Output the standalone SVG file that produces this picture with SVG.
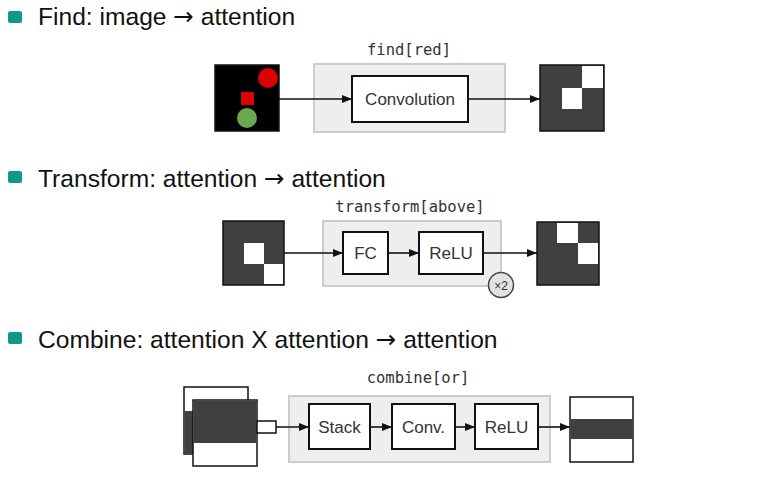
<svg xmlns="http://www.w3.org/2000/svg" width="766" height="485" viewBox="0 0 766 485">
<style>
.hdr{font-family:"Liberation Sans",Arial,sans-serif;font-size:24.6px;fill:#111}
.arr{font-family:"DejaVu Sans",sans-serif;font-size:24.6px}
.bul{fill:#0f9a86}
.mono{font-family:"DejaVu Sans Mono","Liberation Mono",monospace;font-size:15.5px;fill:#333;text-anchor:middle}
.grp{fill:#eeeeee;stroke:#cccccc;stroke-width:2}
.box{fill:#ffffff;stroke:#111;stroke-width:2}
.lbl{font-family:"Liberation Sans",Arial,sans-serif;font-size:17px;fill:#333;text-anchor:middle}
.att{fill:#404040;stroke:#111;stroke-width:1.5}
.wht{fill:#ffffff}
.wbox{fill:#ffffff;stroke:#111;stroke-width:1.5}
.edge{stroke:#111;stroke-width:1.6;fill:none;marker-end:url(#ah)}
</style>
<defs>
<marker id="ah" markerWidth="10" markerHeight="8" refX="10" refY="4" orient="auto" markerUnits="userSpaceOnUse">
<path d="M0,0 L10,4 L0,8 Z" fill="#111"/>
</marker>
</defs>
<rect width="766" height="485" fill="#ffffff"/>

<g id="headers">
<rect class="bul" x="8" y="11" width="14" height="12" rx="2"/>
<text class="hdr" x="38" y="25">Find: image <tspan class="arr">→</tspan> attention</text>
<rect class="bul" x="8" y="171" width="14" height="12" rx="2"/>
<text class="hdr" x="38" y="187">Transform: attention <tspan class="arr">→</tspan> attention</text>
<rect class="bul" x="8" y="332" width="14" height="12" rx="2"/>
<text class="hdr" x="38" y="348">Combine: attention X attention <tspan class="arr">→</tspan> attention</text>
</g>

<g id="find-input">
<rect x="215" y="65" width="64" height="66" fill="#000" stroke="#111" stroke-width="1.5"/>
<circle cx="268" cy="78" r="10" fill="#dd0000"/>
<rect x="241" y="92" width="13" height="13" fill="#dd0000"/>
<circle cx="247" cy="118" r="10" fill="#6aa84f"/>
</g>
<g id="find-module">
<rect class="grp" x="314" y="64" width="191" height="68"/>
<text class="mono" x="409" y="55">find[red]</text>
</g>
<g id="find-conv">
<rect class="box" x="352" y="76" width="116" height="46"/>
<text class="lbl" x="410" y="105">Convolution</text>
</g>
<g id="find-output">
<rect class="att" x="540" y="65" width="64" height="66"/>
<rect class="wht" x="582" y="66" width="21" height="22"/>
<rect class="wht" x="562" y="88" width="20" height="21"/>
</g>

<g id="transform-input">
<rect class="att" x="223" y="221" width="61" height="64"/>
<rect class="wht" x="244" y="243" width="20" height="21"/>
<rect class="wht" x="264" y="264" width="19" height="20"/>
</g>
<g id="transform-module">
<rect class="grp" x="323" y="221" width="178" height="65"/>
<text class="mono" x="410" y="212">transform[above]</text>
</g>
<g id="transform-fc">
<rect class="box" x="343" y="232" width="45" height="42"/>
<text class="lbl" x="365.5" y="259">FC</text>
</g>
<g id="transform-relu">
<rect class="box" x="419" y="232" width="64" height="42"/>
<text class="lbl" x="451" y="259">ReLU</text>
</g>
<g id="transform-output">
<rect class="att" x="537" y="222" width="62" height="63"/>
<rect class="wht" x="557" y="223" width="21" height="20"/>
<rect class="wht" x="578" y="243" width="20" height="21"/>
</g>

<g id="combine-input">
<rect x="184" y="387" width="64" height="67" fill="#ffffff" stroke="#111" stroke-width="1.5"/>
<rect x="184.75" y="411" width="62.5" height="42.25" fill="#404040"/>
<rect x="193" y="400" width="64" height="66" fill="#ffffff" stroke="#111" stroke-width="1.5"/>
<rect x="193.75" y="400.75" width="62.5" height="42.25" fill="#404040"/>
<rect class="wbox" x="257" y="421" width="19" height="12"/>
</g>
<g id="combine-module">
<rect class="grp" x="289" y="396" width="261" height="66"/>
<text class="mono" x="418" y="383">combine[or]</text>
</g>
<g id="combine-stack">
<rect class="box" x="309" y="404" width="61" height="45"/>
<text class="lbl" x="339.5" y="433">Stack</text>
</g>
<g id="combine-conv">
<rect class="box" x="392" y="404" width="63" height="45"/>
<text class="lbl" x="423.5" y="433">Conv.</text>
</g>
<g id="combine-relu">
<rect class="box" x="475" y="404" width="63" height="45"/>
<text class="lbl" x="506.5" y="433">ReLU</text>
</g>
<g id="combine-output">
<rect class="wbox" x="570" y="397" width="63" height="65"/>
<rect x="570.75" y="419" width="61.5" height="20" fill="#404040"/>
</g>

<g id="connectors">
<line class="edge" x1="279" y1="99" x2="352" y2="99"/>
<line class="edge" x1="468" y1="99" x2="540" y2="99"/>
<line class="edge" x1="284" y1="253" x2="343" y2="253"/>
<line class="edge" x1="388" y1="253" x2="419" y2="253"/>
<line class="edge" x1="483" y1="253" x2="537" y2="253"/>
<line class="edge" x1="276" y1="427" x2="309" y2="427"/>
<line class="edge" x1="370" y1="427" x2="392" y2="427"/>
<line class="edge" x1="455" y1="427" x2="475" y2="427"/>
<line class="edge" x1="538" y1="427" x2="570" y2="427"/>
</g>

<g id="transform-repeat">
<circle cx="501" cy="285" r="12.5" fill="#e2e2e2" stroke="#444" stroke-width="1.5"/>
<text x="501" y="289.5" font-family="Liberation Sans,Arial,sans-serif" font-size="12px" fill="#333" text-anchor="middle">×2</text>
</g>
</svg>
